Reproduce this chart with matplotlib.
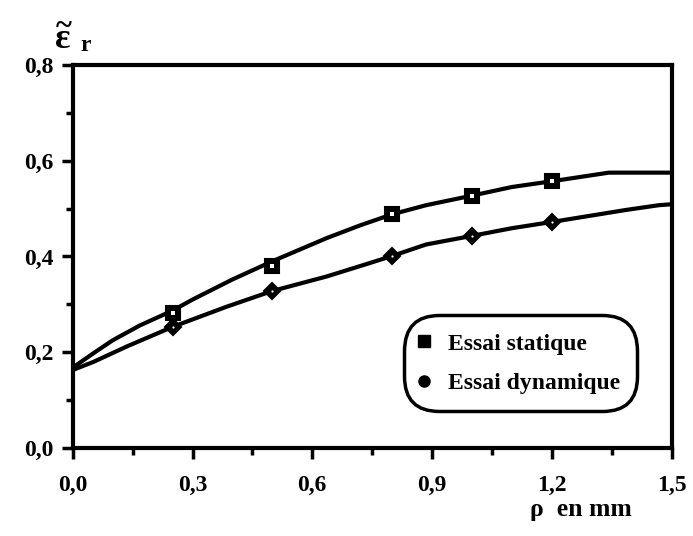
import numpy as np
import matplotlib
matplotlib.use("Agg")
import matplotlib.pyplot as plt
from matplotlib.lines import Line2D
from matplotlib.legend_handler import HandlerTuple

plt.rcParams['font.family'] = ['Liberation Serif', 'DejaVu Serif']
plt.rcParams['mathtext.fontset'] = 'custom'
plt.rcParams['mathtext.rm'] = 'Liberation Serif:bold'
plt.rcParams['mathtext.it'] = 'Liberation Serif:bold'
plt.rcParams['mathtext.bf'] = 'Liberation Serif:bold'

# courbe lissee - essai statique
stat_x = [0, 0.05, 0.1, 0.168, 0.25, 0.30, 0.40, 0.50, 0.635, 0.72, 0.80, 0.885, 1.0, 1.1, 1.2, 1.343, 1.5]
stat_y = [0.168, 0.197, 0.225, 0.256, 0.287, 0.31, 0.352, 0.39, 0.438, 0.465, 0.488, 0.507, 0.527, 0.545, 0.557, 0.575, 0.575]
# courbe lissee - essai dynamique
dyn_x = [0, 0.052, 0.135, 0.25, 0.385, 0.5, 0.635, 0.72, 0.8, 0.885, 1.0, 1.1, 1.2, 1.385, 1.468, 1.5]
dyn_y = [0.163, 0.18, 0.212, 0.253, 0.295, 0.328, 0.358, 0.38, 0.401, 0.425, 0.443, 0.459, 0.472, 0.497, 0.507, 0.509]

# points de mesure
pts_x = [0.25, 0.5, 0.8, 1.0, 1.2]
stat_pts = [0.283, 0.380, 0.488, 0.527, 0.557]
dyn_pts = [0.253, 0.328, 0.401, 0.443, 0.472]

xticks = [0.0, 0.3, 0.6, 0.9, 1.2, 1.5]
xlabels = ['0,0', '0,3', '0,6', '0,9', '1,2', '1,5']
yticks = [0.0, 0.2, 0.4, 0.6, 0.8]
ylabels = ['0,0', '0,2', '0,4', '0,6', '0,8']

fig = plt.figure(figsize=(6.93, 5.36), dpi=100)
ax = fig.add_axes([0.105, 0.164, 0.864, 0.715])

ax.plot(stat_x, stat_y, color='black', lw=3, solid_capstyle='round')
ax.plot(dyn_x, dyn_y, color='black', lw=3, solid_capstyle='round')

ax.plot(pts_x, stat_pts, ls='none', marker='s', ms=10, mfc='black', mec='black', mew=1.5, zorder=3)
ax.plot(pts_x, stat_pts, ls='none', marker='s', ms=2.2, mfc='white', mew=0, zorder=4)
ax.plot(pts_x, dyn_pts, ls='none', marker='D', ms=8.5, mfc='black', mec='black', mew=1.5, zorder=3)
ax.plot(pts_x, dyn_pts, ls='none', marker='o', ms=1.6, mfc='white', mew=0, zorder=4)

ax.set_xlim(0, 1.5)
ax.set_ylim(0, 0.8)
ax.set_xticks(xticks)
ax.set_xticklabels(xlabels)
ax.set_yticks(yticks)
ax.set_yticklabels(ylabels)
ax.set_xticks(np.arange(0.15, 1.5, 0.3), minor=True)
ax.set_yticks(np.arange(0.1, 0.8, 0.2), minor=True)
ax.tick_params(which='major', length=8, width=2.5, direction='out', labelsize=17, pad=6)
ax.tick_params(which='minor', length=5, width=2.5, direction='out')
ax.tick_params(axis='x', which='major', pad=11)
for lab in ax.get_xticklabels() + ax.get_yticklabels():
    lab.set_fontweight('bold')
for s in ax.spines.values():
    s.set_linewidth(3)

# label de l'axe y : epsilon tilde indice r
fig.text(0.078, 0.925, r'$\widetilde{\varepsilon}$', fontsize=26, ha='left', va='center')
fig.text(0.116, 0.916, 'r', fontsize=17, fontweight='bold', ha='left', va='center')
fig.text(0.838, 0.050, 'ρ  en mm', fontsize=18.5, fontweight='bold', ha='center', va='center')

h1 = (Line2D([], [], ls='none', marker='s', ms=8, mfc='black', mec='black'),
      Line2D([], [], ls='none', marker='s', ms=2.2, mfc='white', mew=0))
h2 = (Line2D([], [], ls='none', marker='o', ms=8, mfc='black', mec='black'),
      Line2D([], [], ls='none', marker='o', ms=1.6, mfc='white', mew=0))
leg = ax.legend([h1, h2], ['Essai statique', 'Essai dynamique'],
                handler_map={tuple: HandlerTuple(ndivide=None)},
                loc='center', bbox_to_anchor=(0.748, 0.221),
                prop={'size': 17, 'weight': 'bold'}, handlelength=0.6, handletextpad=0.5,
                labelspacing=0.75, borderpad=0.25, fancybox=True, framealpha=1)
frame = leg.get_frame()
frame.set_edgecolor('black')
frame.set_linewidth(2.5)
frame.set_boxstyle('round', pad=0.5, rounding_size=1.5)

fig.savefig('out.png', dpi=100)
